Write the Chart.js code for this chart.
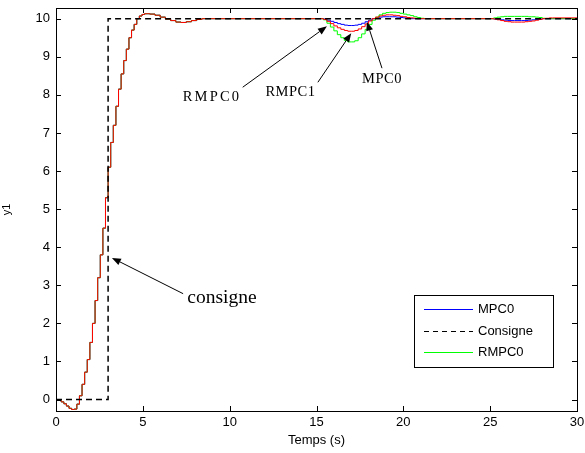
<!DOCTYPE html>
<html><head><meta charset="utf-8">
<script src="https://cdn.jsdelivr.net/npm/chart.js@4"></script>
<style>html,body{margin:0;padding:0;background:#fff}#wrap{width:585px;height:453px;position:relative}</style>
</head><body><div id="wrap"><canvas id="c"></canvas></div>
<script>
// ---- data ----
const commonTime = [0,0.15,0.3,0.45,0.6,0.75,0.9,1.05,1.2,1.35,1.5,1.65,1.8,1.95,2.1,2.25,2.4,2.55,2.7,2.85,3.0,3.15,3.3,3.45,3.6,3.75,3.9,4.05,4.2,4.35,4.5,4.65,4.8,4.95,5.1,5.25,5.4,5.7,6.0,6.3,6.6,6.9,7.2,7.5,7.8,8.1,8.4];
const commonValues = [0,-0.02,-0.06,-0.11,-0.17,-0.23,-0.26,-0.25,-0.12,0.1,0.4,0.72,1.05,1.5,2.0,2.6,3.2,3.8,4.5,5.3,6.1,6.75,7.2,7.7,8.15,8.55,8.9,9.2,9.5,9.7,9.85,10.0,10.07,10.11,10.13,10.13,10.12,10.09,10.04,9.99,9.95,9.91,9.9,9.92,9.95,9.98,10.0];
const tailTime = [15.2,15.4,15.6,15.8,16.0,16.2,16.4,16.6,16.8,17.0,17.2,17.4,17.6,17.8,18.0,18.2,18.4,18.6,18.8,19.0,19.2,19.4,19.6,19.8,20.0,20.2,20.4,20.6,20.8,21.0,21.2,21.4,21.6,
  25.0,25.2,25.4,25.6,25.8,26.0,26.2,26.4,26.6,26.8,27.0,27.2,27.4,27.6,27.8,28.0,28.2,28.4,28.6,30];
const mpc0Tail = [10.0,9.99,9.96,9.93,9.9,9.87,9.85,9.83,9.82,9.82,9.83,9.85,9.88,9.92,9.96,10.0,10.02,10.04,10.05,10.05,10.05,10.05,10.04,10.03,10.02,10.01,10.0,10.0,10.0,10.0,10.0,10.0,10.0,
  10.0,9.99,9.98,9.97,9.96,9.95,9.95,9.95,9.95,9.95,9.95,9.96,9.97,9.98,9.99,10.0,10.0,10.0,10.0,10.0];
const rmpc1Tail = [10.0,9.98,9.93,9.87,9.81,9.76,9.72,9.69,9.67,9.67,9.69,9.73,9.79,9.86,9.94,10.0,10.04,10.07,10.09,10.1,10.1,10.09,10.08,10.06,10.05,10.03,10.02,10.01,10.0,10.0,10.0,10.0,10.0,
  10.0,9.99,9.97,9.95,9.93,9.92,9.91,9.91,9.91,9.91,9.92,9.93,9.94,9.96,9.98,10.0,10.01,10.02,10.02,10.01];
const rmpc0Tail = [10.0,9.97,9.88,9.78,9.68,9.58,9.5,9.43,9.39,9.39,9.42,9.5,9.6,9.72,9.85,9.96,10.04,10.1,10.14,10.16,10.17,10.17,10.16,10.14,10.12,10.1,10.08,10.05,10.03,10.01,10.0,10.0,10.0,
  10.0,10.02,10.04,10.05,10.06,10.06,10.06,10.06,10.06,10.06,10.06,10.05,10.05,10.04,10.03,10.01,10.0,10.0,10.0,10.0];
const consigneTime = [0,3,3,30];
const consigneValues = [0,0,10,10];
const xTickValues = [0,5,10,15,20,25,30];
const yTickValues = [0,1,2,3,4,5,6,7,8,9,10];
const legendNames = ['MPC0','Consigne','RMPC0'];
const legendColors = ['#0000ff','#000000','#00ff00'];
const legendDashes = [[],[5,4],[]];
const notes = [
  {text:'RMPC0', size:14.5, sp:2.2, tx:8.98, ty:7.95, ax:10.75, ay:8.2, hx:15.6, hy:9.8},
  {text:'RMPC1', size:14.5, sp:0.5, tx:13.5, ty:8.08, ax:15.08, ay:8.33, hx:17.0, hy:9.62},
  {text:'MPC0', size:14.5, sp:0.5, tx:18.77, ty:8.42, ax:18.77, ay:8.7, hx:17.9, hy:9.92},
  {text:'consigne', size:19.5, sp:0, tx:9.56, ty:2.66, ax:7.32, ay:2.78, hx:3.22, hy:3.72}
];

function pts(t, v){ return t.map((x,i)=>({x:x, y:v[i]})); }
const mpc0 = pts(commonTime, commonValues).concat(pts(tailTime, mpc0Tail));
const rmpc1 = pts(commonTime, commonValues).concat(pts(tailTime, rmpc1Tail));
const rmpc0 = pts(commonTime, commonValues).concat(pts(tailTime, rmpc0Tail));
const consigne = pts(consigneTime, consigneValues);

const SANS = "'Liberation Sans', Arial, sans-serif";
const SERIF = "'Liberation Serif', 'Times New Roman', serif";

const framePlugin = {
  id:'frame',
  afterDatasetsDraw(chart){
    const {ctx, chartArea:a, scales:{x, y}} = chart;
    ctx.save();
    ctx.strokeStyle = '#000'; ctx.lineWidth = 1;
    ctx.beginPath();
    const L = 5;
    xTickValues.forEach(v=>{
      const px = Math.round(x.getPixelForValue(v))+0.5;
      ctx.moveTo(px, a.bottom); ctx.lineTo(px, a.bottom-L);
      ctx.moveTo(px, a.top); ctx.lineTo(px, a.top+L);
    });
    yTickValues.forEach(v=>{
      const py = Math.round(y.getPixelForValue(v))+0.5;
      ctx.moveTo(a.left, py); ctx.lineTo(a.left+L, py);
      ctx.moveTo(a.right, py); ctx.lineTo(a.right-L, py);
    });
    ctx.stroke();
    ctx.strokeRect(Math.round(a.left)+0.5, Math.round(a.top)+0.5, Math.round(a.right-a.left), Math.round(a.bottom-a.top));
    // annotations
    ctx.fillStyle = '#000';
    notes.forEach(n=>{
      const ax = x.getPixelForValue(n.ax), ay = y.getPixelForValue(n.ay);
      const hx = x.getPixelForValue(n.hx), hy = y.getPixelForValue(n.hy);
      const ang = Math.atan2(hy-ay, hx-ax);
      const hl = 9, hw = 3.5;
      const bx = hx - hl*Math.cos(ang), by = hy - hl*Math.sin(ang);
      ctx.beginPath(); ctx.moveTo(ax, ay); ctx.lineTo(bx, by); ctx.stroke();
      ctx.beginPath();
      ctx.moveTo(hx, hy);
      ctx.lineTo(bx + hw*Math.sin(ang), by - hw*Math.cos(ang));
      ctx.lineTo(bx - hw*Math.sin(ang), by + hw*Math.cos(ang));
      ctx.closePath(); ctx.fill();
      ctx.font = n.size + 'px ' + SERIF;
      ctx.letterSpacing = n.sp + 'px';
      ctx.textAlign = 'center'; ctx.textBaseline = 'middle';
      ctx.fillText(n.text, x.getPixelForValue(n.tx), y.getPixelForValue(n.ty));
      ctx.letterSpacing = '0px';
    });
    // legend box
    const bw = 139, bh = 72;
    const lx = Math.round(a.right) - 24 - bw, ly = Math.round(a.bottom) - 44 - bh;
    ctx.fillStyle = '#fff';
    ctx.fillRect(lx, ly, bw, bh);
    ctx.strokeRect(lx+0.5, ly+0.5, bw, bh);
    ctx.font = '13px ' + SANS; ctx.textAlign = 'left'; ctx.textBaseline = 'middle';
    legendNames.forEach((name, i)=>{
      const ry = Math.round(ly + 14 + i*21.5) + 0.5;
      ctx.save();
      ctx.strokeStyle = legendColors[i]; ctx.lineWidth = 1;
      ctx.setLineDash(legendDashes[i]);
      ctx.beginPath(); ctx.moveTo(lx+10, ry); ctx.lineTo(lx+59, ry); ctx.stroke();
      ctx.restore();
      ctx.fillStyle = '#000';
      ctx.fillText(name, lx+64, ry);
    });
    ctx.restore();
  }
};

new Chart(document.getElementById('c'), {
  type:'line',
  data:{ datasets:[
    {label:'Consigne', data:consigne, borderColor:'#000000', borderWidth:1.5, borderDash:[6,4], pointRadius:0, fill:false, order:0},
    {label:'RMPC1', data:rmpc1, borderColor:'#ff0000', borderWidth:1, stepped:true, pointRadius:0, fill:false, order:1},
    {label:'RMPC0', data:rmpc0, borderColor:'#00ff00', borderWidth:1, stepped:true, pointRadius:0, fill:false, order:2},
    {label:'MPC0', data:mpc0, borderColor:'#0000ff', borderWidth:1, stepped:true, pointRadius:0, fill:false, order:3}
  ]},
  options:{
    responsive:true, maintainAspectRatio:false, animation:false,
    layout:{padding:{top:8, right:8, left:0, bottom:0}},
    plugins:{legend:{display:false}, tooltip:{enabled:false}},
    scales:{
      x:{type:'linear', min:0, max:30,
        afterBuildTicks(s){ s.ticks = xTickValues.map(v=>({value:v})); },
        afterFit(s){ s.height = 42; s.paddingLeft = 0; s.paddingRight = 0; },
        grid:{display:false, drawTicks:false}, border:{display:false},
        ticks:{color:'#000', padding:4, font:{family:SANS, size:13}, maxRotation:0},
        title:{display:true, text:'Temps (s)', color:'#000', font:{family:SANS, size:13}, padding:{top:0, bottom:5}}
      },
      y:{type:'linear', min:-0.3, max:10.28,
        afterBuildTicks(s){ s.ticks = yTickValues.map(v=>({value:v})); },
        afterFit(s){ s.width = 56; s.paddingTop = 0; s.paddingBottom = 0; },
        grid:{display:false, drawTicks:false}, border:{display:false},
        ticks:{color:'#000', padding:6, font:{family:SANS, size:13}},
        title:{display:true, text:'y1', color:'#000', font:{family:SANS, size:11}, padding:{top:0,bottom:0}}
      }
    }
  },
  plugins:[framePlugin]
});
</script></body></html>
